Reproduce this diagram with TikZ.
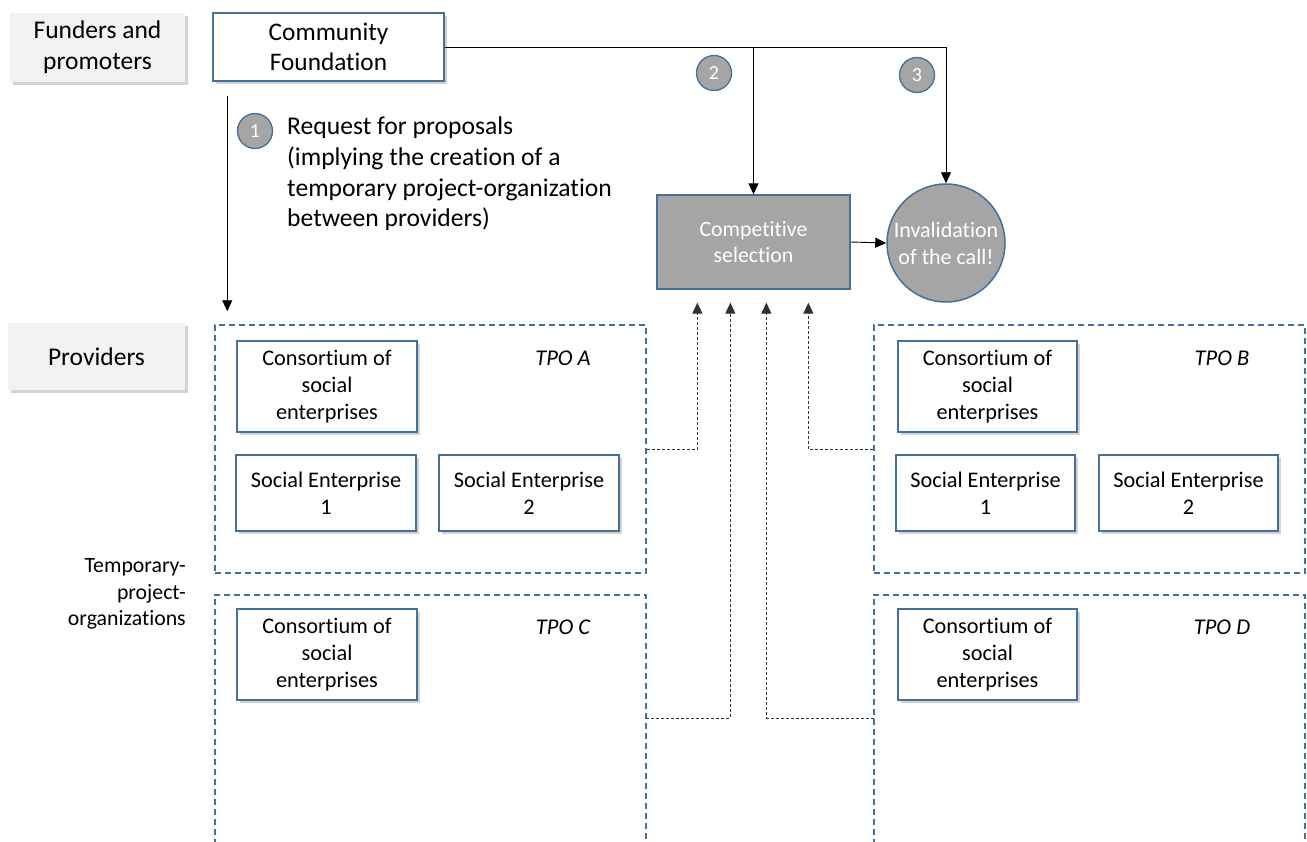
\documentclass[tikz,border=0pt]{standalone}
\usepackage{fontspec}
\setmainfont[Ligatures=NoCommon]{Carlito}
\usetikzlibrary{arrows.meta,shadows,calc}
\definecolor{bblue}{HTML}{41719C}
\definecolor{gfill}{HTML}{A5A5A5}
\definecolor{lfill}{HTML}{F2F2F2}
\definecolor{dline}{HTML}{303030}
\tikzset{
  shad/.style={drop shadow={shadow xshift=3pt,shadow yshift=-3pt,opacity=0.35,fill=gray}},
  catbox/.style={fill=lfill,draw=none,shad,align=center,inner sep=0pt,font=\fontsize{25.5}{31}\selectfont},
  bbox/.style={draw=bblue,line width=1.5pt,fill=white,shad,align=center,inner sep=0pt,font=\fontsize{22.3}{27}\selectfont},
  numc/.style={circle,draw=bblue,line width=1.3pt,fill=gfill,text=white,minimum size=35pt,inner sep=0pt,font=\fontsize{20}{22}\selectfont},
  tpo/.style={draw=bblue,line width=1.5pt,dash pattern=on 6pt off 4pt},
  tpolabel/.style={font=\fontsize{22.5}{24}\selectfont\itshape},
  sarrow/.style={draw=black,line width=0.9pt,-{Triangle[length=11pt,width=10pt]}},
  darrow/.style={draw=dline,line width=1pt,dash pattern=on 3pt off 2pt,-{Triangle[length=11pt,width=10pt]}},
}
\begin{document}
\begin{tikzpicture}[x=1pt,y=-1pt]
\useasboundingbox (0,0) rectangle (1307,841);
% category labels
\node[catbox,minimum width=175pt,minimum height=69pt] (fp) at (97.5,47.5) {Funders and\\promoters};
\node[catbox,minimum width=177pt,minimum height=67pt] (prov) at (96.5,356.5) {Providers};
\node[align=right,anchor=east,inner sep=0pt,font=\fontsize{21.8}{26.5}\selectfont] (tmp) at (186,594) {Temporary-\\project-\\organizations};
% community foundation
\node[bbox,minimum width=231pt,minimum height=68pt,font=\fontsize{25.3}{30}\selectfont] (cf) at (328.5,47) {Community\\Foundation};
% competitive selection and invalidation
\node[draw=bblue,line width=1.3pt,fill=gfill,text=white,minimum width=193pt,minimum height=94pt,align=center,inner sep=0pt,font=\fontsize{21.8}{26}\selectfont] (cs) at (753.5,242) {Competitive\\selection};
\node[circle,draw=bblue,line width=1.5pt,fill=gfill,text=white,minimum size=118pt,align=center,inner sep=0pt,font=\fontsize{22}{27}\selectfont] (inv) at (946,243) {Invalidation\\of the call!};
% numbers
\node[numc] (n1) at (255,131) {1};
\node[numc] (n2) at (714,73) {2};
\node[numc] (n3) at (917,75) {3};
\node[anchor=west,align=left,inner sep=0pt,font=\fontsize{25.6}{30.7}\selectfont] (req) at (287,174) {Request for proposals\\(implying the creation of a\\temporary project-organization\\between providers)};
% TPO containers
\node[tpo,minimum width=431pt,minimum height=248pt,inner sep=0pt] (tpoA) at (430.5,449) {};
\node[tpo,minimum width=431pt,minimum height=248pt,inner sep=0pt] (tpoB) at (1089.5,449) {};
\node[minimum width=431pt,minimum height=260pt,inner sep=0pt] (tpoC) at (430.5,725) {};
\node[minimum width=431pt,minimum height=260pt,inner sep=0pt] (tpoD) at (1089.5,725) {};
\draw[tpo] (tpoC.south west) -- (tpoC.north west) -- (tpoC.north east) -- (tpoC.south east);
\draw[tpo] (tpoD.south west) -- (tpoD.north west) -- (tpoD.north east) -- (tpoD.south east);
\node[tpolabel] (lA) at (563,358) {TPO A};
\node[tpolabel] (lB) at (1222,358) {TPO B};
\node[tpolabel] (lC) at (563,627) {TPO C};
\node[tpolabel] (lD) at (1222,627) {TPO D};
% boxes TPO A
\node[bbox,minimum width=180pt,minimum height=91pt] (conA) at (327,386.5) {Consortium of\\social\\enterprises};
\node[bbox,minimum width=180pt,minimum height=76pt] (se1A) at (326,493) {Social Enterprise\\1};
\node[bbox,minimum width=180pt,minimum height=76pt] (se2A) at (529,493) {Social Enterprise\\2};
% boxes TPO B
\node[bbox,minimum width=179pt,minimum height=91pt] (conB) at (987.5,386.5) {Consortium of\\social\\enterprises};
\node[bbox,minimum width=179pt,minimum height=76pt] (se1B) at (985.5,493) {Social Enterprise\\1};
\node[bbox,minimum width=179pt,minimum height=76pt] (se2B) at (1188.5,493) {Social Enterprise\\2};
% boxes TPO C, D
\node[bbox,minimum width=180pt,minimum height=91pt] (conC) at (327,654.5) {Consortium of\\social\\enterprises};
\node[bbox,minimum width=179pt,minimum height=91pt] (conD) at (987.5,654.5) {Consortium of\\social\\enterprises};
% solid connectors
\coordinate (top) at (753,47);
\draw[line width=0.9pt] (cf.east |- top) -- (inv.north |- top);
\draw[sarrow] (inv.north |- top) -- (inv.north);
\draw[sarrow] (cs.north |- top) -- (cs.north);
\draw[sarrow] (cs.east) -- (inv.west);
\draw[sarrow,shorten <=14pt,shorten >=13pt] ($(cf.south west)+(15,0)$) -- ($(tpoA.north west)+(13,0)$);
% dotted connectors
\coordinate (ylow) at (0,718);
\draw[darrow,shorten >=13pt] (tpoA.east) -| ($(cs.south west)+(41,0)$);
\draw[darrow,shorten >=13pt] (tpoC.east |- ylow) -| ($(cs.south west)+(74,0)$);
\draw[darrow,shorten >=13pt] (tpoD.west |- ylow) -| ($(cs.south west)+(110,0)$);
\draw[darrow,shorten >=13pt] (tpoB.west) -| ($(cs.south west)+(152,0)$);
\end{tikzpicture}
\end{document}
